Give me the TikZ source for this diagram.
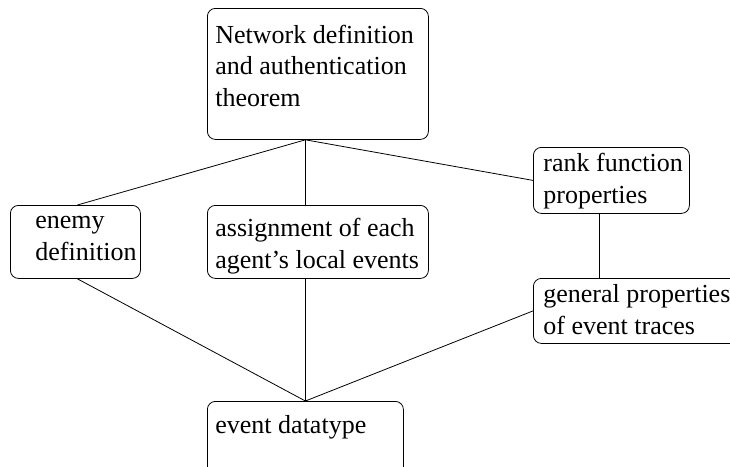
\documentclass[tikz,border=0pt]{standalone}
\usepackage{fontspec}
\setmainfont{Liberation Serif}
\usetikzlibrary{positioning}
\tikzset{
    box/.style={rectangle, rounded corners=8pt, draw, anchor=north west, inner sep=0pt},
    txt/.style={anchor=base west, align=left, inner sep=0pt, font=\fontsize{26}{31.5}\selectfont},
    link/.style={-, line width=0.8pt}
}
\begin{document}
\begin{tikzpicture}[x=1pt, y=-1pt, line width=0.8pt]
    \useasboundingbox (0,0) rectangle (730,466);
    % Boxes
    \node[box, minimum width=221pt, minimum height=131pt] (net) at (207,8) {};
    \node[box, minimum width=130pt, minimum height=73pt] (enemy) at (10,205) {};
    \node[box, minimum width=221pt, minimum height=73pt] (assign) at (207,205) {};
    \node[box, minimum width=156pt, minimum height=66pt] (rank) at (533,147) {};
    \node[box, minimum width=210pt, minimum height=65pt] (general) at (533,278) {};
    \node[box, minimum width=196pt, minimum height=80pt] (event) at (207,401) {};

    % Texts (base = baseline of the last line)
    \node[txt] (netlabel) at (215,106) {Network definition\\and authentication\\theorem};
    \node[txt] (enemylabel) at (35,260) {enemy\\definition};
    \node[txt] (assignlabel) at (215,268) {assignment of each\\agent's local events};
    \node[txt] (ranklabel) at (543,203) {rank function\\properties};
    \node[txt] (generallabel) at (543,334) {general properties\\of event traces};
    \node[txt] (eventlabel) at (215,433) {event datatype};

    % Links
    \draw[link] ([xshift=-12.5pt]net.south) -- ([xshift=2pt]enemy.north);
    \draw[link] ([xshift=-12.5pt]net.south) -- ([xshift=-12.5pt]assign.north);
    \draw[link] ([xshift=-12.5pt]net.south) -- (rank.west);
    \draw[link] ([xshift=-12pt]rank.south) -- ([xshift=-12pt]rank.south |- general.north);
    \draw[link] ([xshift=2pt]enemy.south) -- (event.north);
    \draw[link] ([xshift=-12.5pt]assign.south) -- (event.north);
    \draw[link] (general.west) -- (event.north);
\end{tikzpicture}
\end{document}
